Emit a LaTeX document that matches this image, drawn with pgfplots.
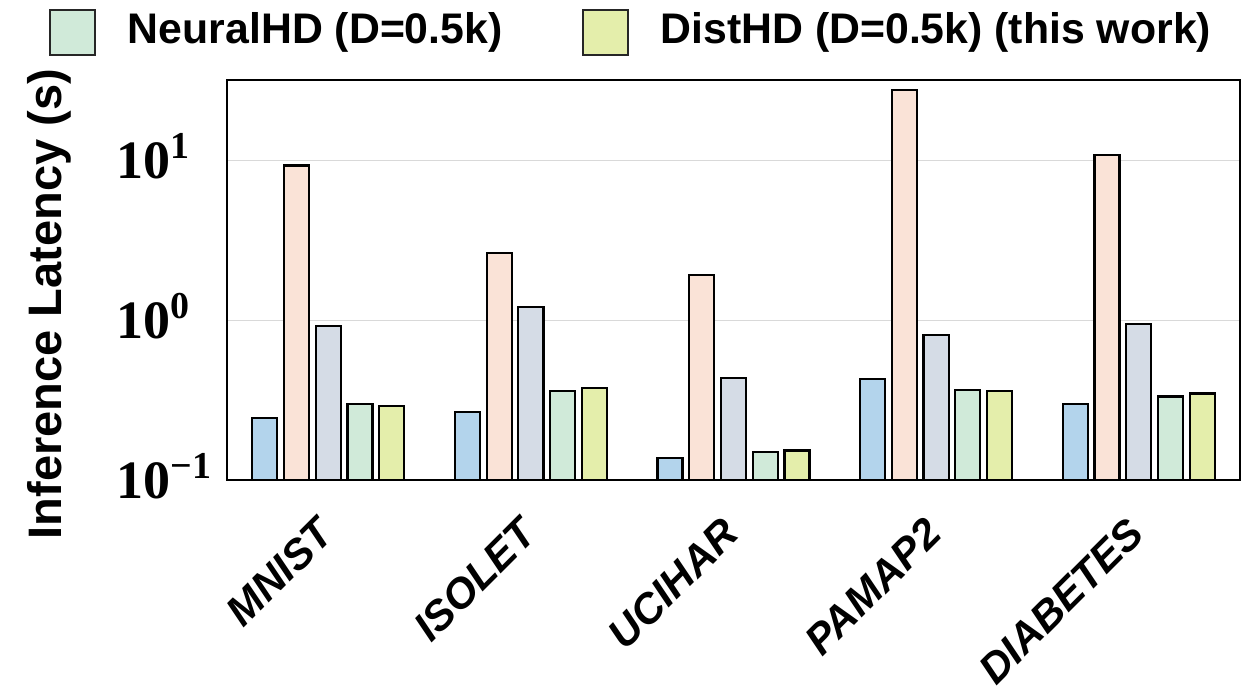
\documentclass[border=0pt]{standalone}
\usepackage{pgfplots}
\pgfplotsset{compat=1.18}
\usepackage{fontspec}
\setmainfont{Liberation Sans}
\newfontfamily\serifb{Liberation Serif}
\definecolor{cA}{HTML}{B3D4EC}
\definecolor{cB}{HTML}{FAE3D7}
\definecolor{cC}{HTML}{D5DCE6}
\definecolor{cD}{HTML}{D0EAD9}
\definecolor{cE}{HTML}{E4EEAB}
\newcommand{\tl}[1]{{\serifb\bfseries\fontsize{27}{27}\selectfont 10\raisebox{0.36em}{\fontsize{19}{19}\selectfont #1}}}
\begin{document}
\begin{tikzpicture}
\begin{axis}[
  scale only axis, width=506.5pt, height=200pt,
  ymode=log, ymin=0.1, ymax=31.6228, xmin=-0.5, xmax=4.5,
  log origin y=infty,
  xtick={0,1,2,3,4},
  xticklabels={MNIST,ISOLET,UCIHAR,PAMAP2,DIABETES},
  ytick={0.1,1,10},
  yticklabels={\tl{−1},\tl{0},\tl{1}},
  tick style={draw=none}, major tick length=0pt, minor tick length=0pt,
  ymajorgrids, grid style={draw=gray!30, line width=0.5pt},
  axis line style={line width=1pt},
  xticklabel style={xshift=-6.5pt, yshift=-17.5pt, rotate=45, anchor=north east, inner sep=0pt, font=\bfseries\itshape\fontsize{21}{21}\selectfont},
  yticklabel style={anchor=base west, inner sep=0pt, xshift=-55.5pt, yshift=-9.2pt},
  ylabel={Inference Latency (s)},
  ylabel style={at={(axis description cs:-0.1974,0.44)}, anchor=north, inner sep=0pt, font=\bfseries\fontsize{23.5}{23.5}\selectfont},
  legend columns=2,
  legend cell align=left,
  legend style={at={(0,1)}, anchor=north west, xshift=-89pt, yshift=35.5pt, draw=none, fill=none, inner sep=0pt, outer sep=0pt,
    font=\bfseries\fontsize{21.4}{21.4}\selectfont, nodes={inner sep=0pt},
    /tikz/every odd column/.append style={column sep=16pt},
    /tikz/every even column/.append style={column sep=39.5pt}},
  every axis plot/.append style={ybar, bar width=0.1235, draw=black, line width=1.1pt},
]
\addplot[ybar, bar width=0.1235, bar shift=-0.313, fill=cA, draw=black, forget plot] coordinates {(0,0.243) (1,0.266) (2,0.137) (3,0.430) (4,0.297)};
\addplot[ybar, bar width=0.1235, bar shift=-0.1565, fill=cB, draw=black, forget plot] coordinates {(0,9.23) (1,2.61) (2,1.91) (3,27.4) (4,10.7)};
\addplot[ybar, bar width=0.1235, bar shift=0, fill=cC, draw=black, forget plot] coordinates {(0,0.913) (1,1.20) (2,0.436) (3,0.806) (4,0.948)};
\addplot[ybar, bar width=0.1235, bar shift=0.1565, fill=cD, draw=black,
  legend image code/.code={\draw[fill=cD, draw=black!85, line width=1pt] (0pt,-12.6pt) rectangle (22.5pt,9.9pt);}] coordinates {(0,0.299) (1,0.358) (2,0.150) (3,0.367) (4,0.333)};
\addlegendentry{NeuralHD (D=0.5k)}
\addplot[ybar, bar width=0.1235, bar shift=0.313, fill=cE, draw=black,
  legend image code/.code={\draw[fill=cE, draw=black!85, line width=1pt] (0pt,-12.6pt) rectangle (22.5pt,9.9pt);}] coordinates {(0,0.291) (1,0.374) (2,0.153) (3,0.360) (4,0.347)};
\addlegendentry{DistHD (D=0.5k) (this work)}
\coordinate (SW) at (rel axis cs:0,0);
\coordinate (NE) at (rel axis cs:1,1);
\end{axis}
\pgfresetboundingbox
\path ([shift={(-113.5pt,-103.5pt)}]SW) rectangle ([shift={(3pt,40pt)}]NE);
\end{tikzpicture}
\end{document}
